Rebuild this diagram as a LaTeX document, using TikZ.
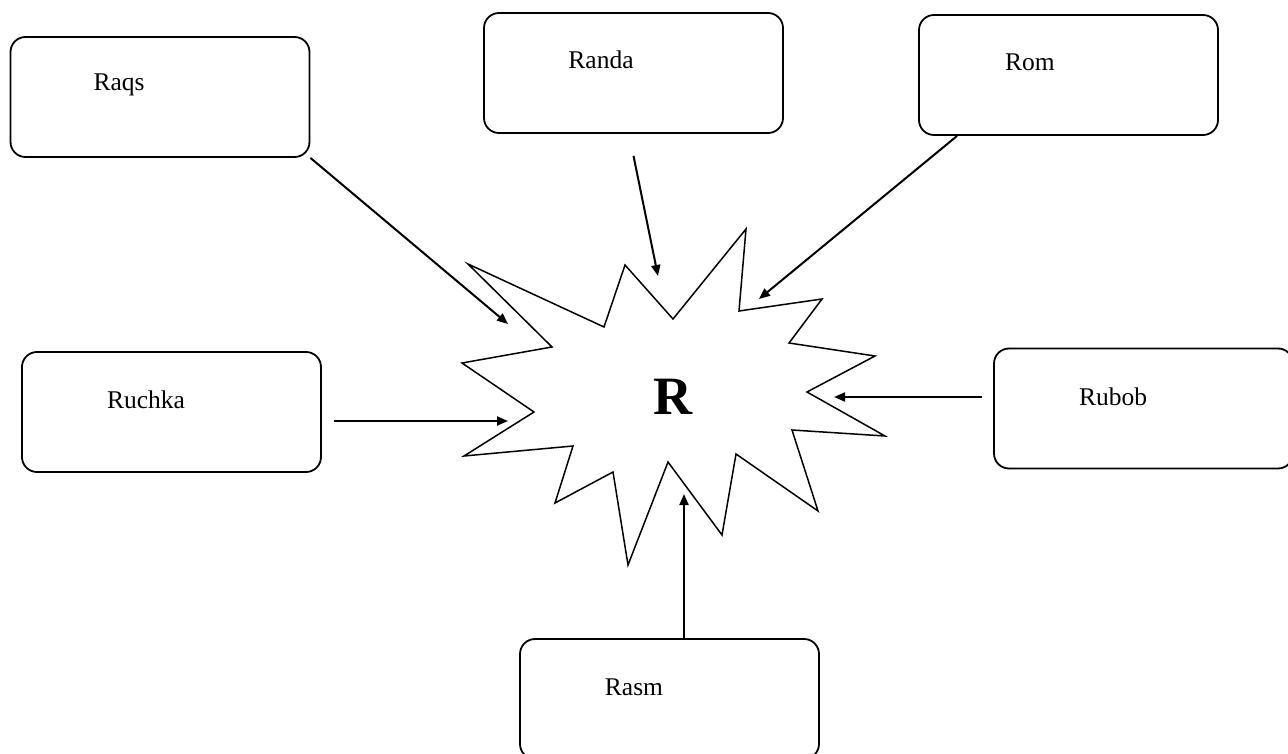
\documentclass[tikz,border=0pt]{standalone}
\usepackage{fontspec}
\setmainfont{Liberation Serif}
\usetikzlibrary{arrows.meta}

\tikzset{
  box/.style={draw, line width=1.8pt, rounded corners=15pt,
    minimum width=299pt, minimum height=120pt, inner sep=0pt},
  boxtext/.style={font=\fontsize{25.5}{30}\selectfont, inner sep=0pt},
  link/.style={line width=2pt, -{Triangle[length=11pt,width=9pt]}},
}

\begin{document}
\begin{tikzpicture}[x=1pt,y=-1pt]
\useasboundingbox (0,0) rectangle (1288,754);

% boxes round the star
\node[box] (raqs) at (160,97) {};
\node[boxtext] (raqs-t) at (119,85) {Raqs};
\node[box] (randa) at (633.5,73) {};
\node[boxtext] (randa-t) at (601,60) {Randa};
\node[box] (rom) at (1068.5,75) {};
\node[boxtext] (rom-t) at (1030,62) {Rom};
\node[box] (ruchka) at (171.5,412) {};
\node[boxtext] (ruchka-t) at (146,400) {Ruchka};
\node[box] (rubob) at (1143.5,408.5) {};
\node[boxtext] (rubob-t) at (1113,397) {Rubob};
\node[box] (rasm) at (669.5,699) {};
\node[boxtext] (rasm-t) at (634,687) {Rasm};

% the star
\draw[line width=1.5pt] (468,264) -- (604,327) -- (625,265) -- (673,319)
  -- (746,229) -- (739,311) -- (822,299) -- (789,343) -- (875,356)
  -- (807,392) -- (885,436) -- (792,430) -- (818,511) -- (736,454)
  -- (722,535) -- (668,462) -- (628,565) -- (613,472) -- (555,503)
  -- (573,446) -- (464,456) -- (534,412) -- (462,363) -- (552,347) -- cycle;
\node[font=\fontsize{54}{60}\selectfont\bfseries, inner sep=0pt] (R) at (673,397) {R};

\coordinate (tip-raqs) at (508,324);
\coordinate (tip-randa) at (658,276);
\coordinate (tip-rom) at (759,299);
\coordinate (tip-ruchka) at (508,421);
\coordinate (tip-rubob) at (834,397);
\coordinate (tip-rasm) at (684,494);

% arrows
\draw[link] (raqs.south east) -- (tip-raqs);
\draw[link] ([shift={(0,22)}]randa.south) -- (tip-randa);
\draw[link] ([shift={(39,0)}]rom.south west) -- (tip-rom);
\draw[link] ([shift={(12,9)}]ruchka.east) -- (tip-ruchka);
\draw[link] ([shift={(-11,-11.5)}]rubob.west) -- (tip-rubob);
\draw[link] ([shift={(14.5,0)}]rasm.north) -- (tip-rasm);
\end{tikzpicture}
\end{document}
